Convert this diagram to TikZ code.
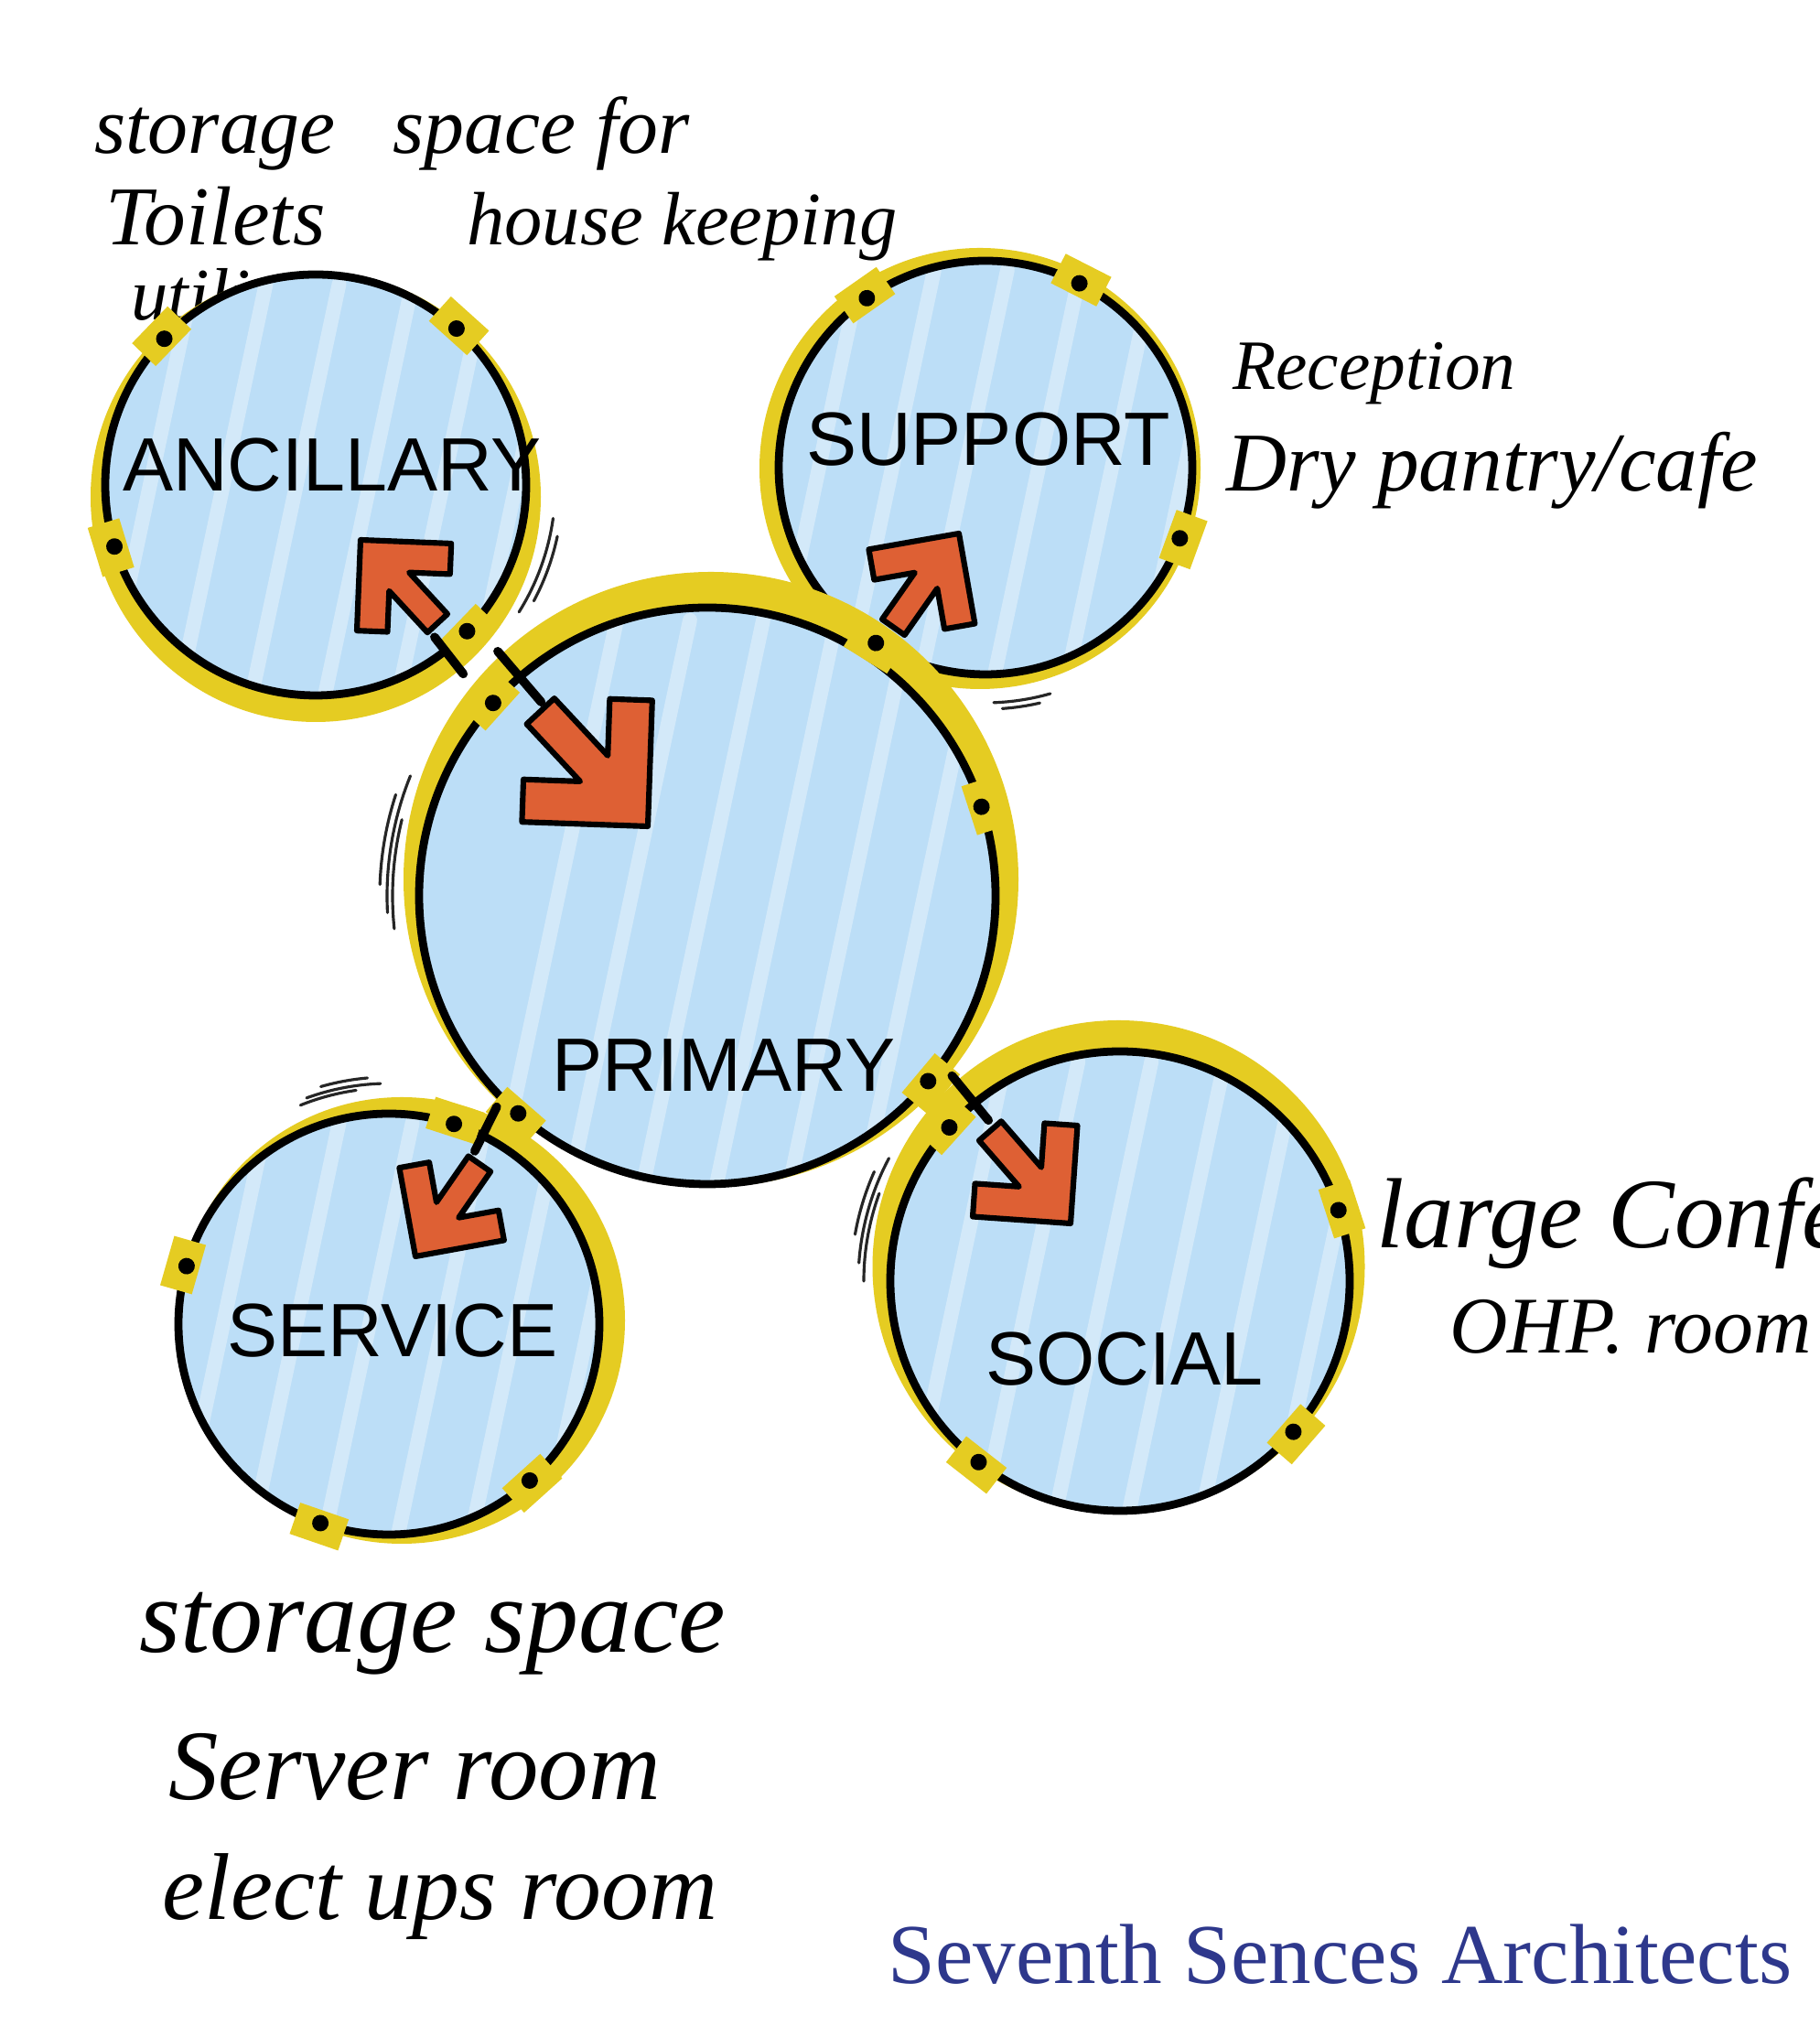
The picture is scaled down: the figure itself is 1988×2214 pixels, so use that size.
\documentclass[tikz,border=0pt]{standalone}
\usepackage{fontspec}
\setsansfont{Liberation Sans}
\newfontfamily\handfont{Liberation Serif}
\usetikzlibrary{calc}
\definecolor{roomblue}{RGB}{188,222,247}
\definecolor{ringyellow}{RGB}{229,204,34}
\definecolor{arroworange}{RGB}{222,96,52}
\definecolor{firmblue}{RGB}{46,56,140}
\tikzset{
    ring/.style={fill=ringyellow},
    room/.style={fill=roomblue},
    streak/.style={white, opacity=.35, line width=9pt, line cap=round},
    wall/.style={draw=black, line width=5pt},
    doorpatch/.style={fill=ringyellow},
    gap/.style={line width=5.5pt, line cap=round},
    flow/.style={draw=black, line width=3.5pt, line join=round, fill=arroworange},
    brush/.style={black!85, line width=1.8pt, line cap=round},
    roomname/.style={font=\sffamily\fontsize{47}{47}\selectfont, inner sep=0pt},
    note/.style={font=\handfont\itshape\fontsize{#1}{#1}\selectfont, anchor=base west, inner sep=0pt},
    firm/.style={font=\handfont\fontsize{53}{53}\selectfont, text=firmblue, anchor=base west, inner sep=0pt},
    flowarrow/.pic={
        \draw[flow] (0,0) -- (-56.6,56.6) -- (-75.7,37.5) -- (-50.2,12) -- (-100,12)
            -- (-100,-12) -- (-50.2,-12) -- (-75.7,-37.5) -- (-56.6,-56.6) -- cycle;
    }
}

\begin{document}
\begin{tikzpicture}[x=0.02cm, y=0.02cm]
    \useasboundingbox (0,0) rectangle (1988,2214);
    \clip (0,0) rectangle (1988,2214);
    \fill[white] (0,0) rectangle (1988,2214);

    % handwritten notes
    \node[note=50] (n1) at (103,2046) {storage};
    \node[note=50] (n2) at (429,2046) {space for};
    \node[note=52] (n3) at (115,1946) {Toilets};
    \node[note=47] (n4) at (510,1946) {house keeping};
    \node[note=46] (n5) at (143,1864) {utility};
    \node[note=44] (n6) at (1347,1788) {Reception};
    \node[note=52] (n7) at (1340,1677) {Dry pantry/cafe};
    \node[note=62] (n8) at (1504,850) {large Conference};
    \node[note=50] (n9) at (1584,735) {OHP. room};
    \node[note=66] (n10) at (152,408) {storage space};
    \node[note=62] (n11) at (184,247) {Server room};
    \node[note=59] (n12) at (177,116) {elect ups room};
    \node[firm] (firm) at (970,46) {Seventh Sences Architects};

    % room centres
    \coordinate (anc) at (345,1684);
    \coordinate (sup) at (1077,1703);
    \coordinate (pri) at (773,1235);
    \coordinate (ser) at (425,767);
    \coordinate (soc) at (1224,814);

    % sketch marks
    \foreach \c/\a/\b/\r in {pri/158/183/350, pri/162/178/358, pri/166/186/344,
        ser/92/110/263, ser/95/106/270, ser/98/112/258,
        soc/152/176/286, soc/156/170/294, soc/160/180/280,
        anc/-32/-8/262, anc/-28/-12/270,
        sup/-88/-74/257, sup/-86/-77/264}
        \draw[brush] ($(\c)+(\a:\r)$) arc[start angle=\a, end angle=\b, radius=\r];

    % rooms
    \foreach \c/\r/\dx/\dy/\rr in {sup/226/-6/-1/241, anc/230/0/-13/246,
        ser/230/14/4/244, soc/251/-1.5/16/269, pri/315/4/18/336} {
        \fill[ring] ($(\c)+(\dx,\dy)$) circle (\rr);
        \fill[room] (\c) circle (\r);
        \begin{scope}
            \clip (\c) circle (\r);
            \foreach \s in {-230,-150,...,230}
                \draw[streak] ($(\c)+(\s,-\r)$) -- ++(78:2*\r);
        \end{scope}
        \draw[wall] (\c) circle (\r);
    }

    % doors
    \foreach \c/\r/\a in {anc/230/136, anc/230/48, anc/230/197, anc/230/-44,
        sup/226/125, sup/226/63, sup/226/-20, sup/226/-122,
        pri/315/138, pri/315/18, pri/315/-40, pri/315/-131,
        ser/230/72, ser/230/164, ser/230/-48, ser/230/-109,
        soc/251/138, soc/251/18, soc/251/-41, soc/251/-128} {
        \begin{scope}[shift={(\c)}, rotate=\a]
            \fill[doorpatch] (\r-14,-28) rectangle (\r+22,28);
            \fill (\r,0) circle (9);
        \end{scope}
    }

    % links
    \draw[gap] ($(anc)+(-52:211)$) -- ($(anc)+(-52:262)$);
    \draw[gap] ($(pri)+(130.6:352)$) -- ($(pri)+(130.6:279)$);
    \draw[gap] ($(soc)+(129.3:290)$) -- ($(soc)+(129.3:227)$);
    \draw[gap] ($(ser)+(63.6:265)$) -- ($(ser)+(63.6:211)$);

    % arrows
    \pic[rotate=132.7, scale=1.24] (ancflow) at (394,1624) {flowarrow};
    \pic[rotate=-47, scale=1.72] (priflow) at (708,1311) {flowarrow};
    \pic[rotate=55, scale=1.25] (supflow) at (1048,1631) {flowarrow};
    \pic[rotate=-124.7, scale=1.23] (serflow) at (454,841) {flowarrow};
    \pic[rotate=-49, scale=1.34] (socflow) at (1170,877) {flowarrow};

    % labels
    \node[roomname] (ancname) at (363,1706) {ANCILLARY};
    \node[roomname] (supname) at (1080,1734) {SUPPORT};
    \node[roomname] (priname) at (791,1050) {PRIMARY};
    \node[roomname] (sername) at (429,760) {SERVICE};
    \node[roomname] (socname) at (1229,729) {SOCIAL};
\end{tikzpicture}
\end{document}
